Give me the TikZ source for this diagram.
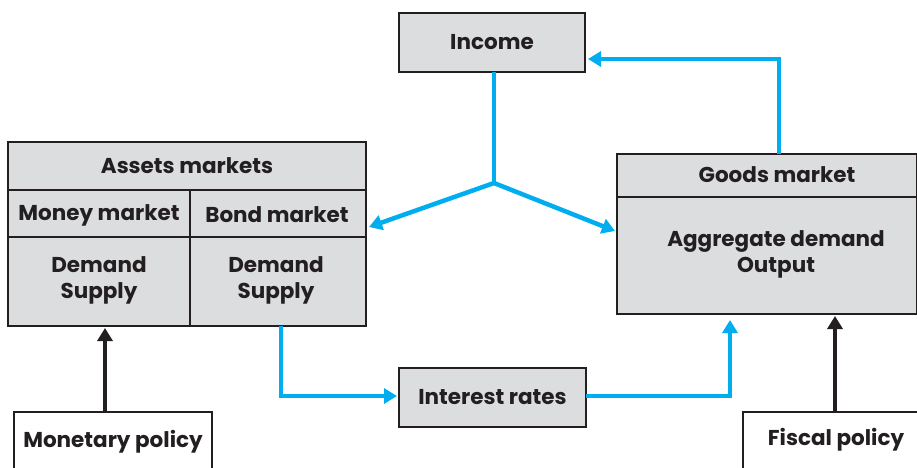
\documentclass[tikz,border=0pt]{standalone}
\usepackage{fontspec}
\setmainfont{Poppins}
\usetikzlibrary{arrows.meta}
\definecolor{boxgray}{HTML}{DCDDDF}
\definecolor{flowblue}{HTML}{00AEEF}
\definecolor{ink}{HTML}{231F20}
\tikzset{
  lbl/.style={font=\bfseries\fontsize{21.5}{26}\selectfont, text=ink, align=center, inner sep=0pt},
  graybox/.style={draw=ink, line width=1.2pt, fill=boxgray, inner sep=0pt},
  whitebox/.style={draw=ink, line width=1.2pt, fill=white, inner sep=0pt},
  flow/.style={draw=flowblue, line width=4.5pt, -{Triangle[length=13pt,width=15pt]}},
  flowplain/.style={draw=flowblue, line width=4.5pt},
  policy/.style={draw=ink, line width=4.5pt, -{Triangle[length=13pt,width=15pt]}},
}
\begin{document}
\begin{tikzpicture}[x=1pt,y=-1pt]
\useasboundingbox (0,0) rectangle (917,467);
% boxes
\node[graybox, minimum width=186pt, minimum height=59pt] (income) at (492,42.5) {};
\node[lbl] at (income) {Income};
\node[graybox, minimum width=358pt, minimum height=184pt] (assets) at (187,234) {};
\node[graybox, minimum width=300pt, minimum height=160pt] (goods) at (767,234) {};
\node[graybox, minimum width=187pt, minimum height=59pt] (rates) at (492.5,397.5) {};
\node[lbl] at (rates) {Interest rates};
% assets inner lines
\draw[ink, line width=2.2pt] (8,190) -- (366,190);
\draw[ink, line width=1.2pt] (8,237) -- (366,237);
\draw[ink, line width=1.2pt] (190,190) -- (190,326);
\node[lbl] (assetsT) at (187,166) {Assets markets};
\node[lbl] (money) at (99,215) {Money market};
\node[lbl] (bond) at (277,215) {Bond market};
\node[lbl] (dsl) at (99,280) {Demand\\Supply};
\node[lbl] (dsr) at (276,280) {Demand\\Supply};
% goods inner
\draw[ink, line width=2.2pt] (617,197) -- (917,197);
\node[lbl] (goodsT) at (777,175) {Goods market};
\node[lbl] (ad) at (776,254) {Aggregate demand\\Output};
% policy boxes
\draw[whitebox] (14,480) -- (14,412) -- (212,412) -- (212,480);
\node[lbl] (monetary) at (113,442) {Monetary policy};
\draw[whitebox] (743,480) -- (743,412) -- (930,412);
\node[lbl] (fiscal) at (836,440) {Fiscal policy};
\coordinate (monTop) at (105,412);
\coordinate (fisTop) at (835,412);
% flows
\coordinate (junc) at (494,183);
\draw[flowplain] (494,72) -- (junc);
\draw[flow] (junc) -- (369,227);
\draw[flow] (junc) -- (615,231);
\draw[flow] (779,154) -- (779,59) -- (588,59);
\draw[flow] (281,326) -- (281,396) -- (397,396);
\draw[flow] (586,396) -- (730,396) -- (730,320);
% policy arrows
\draw[policy] (monTop) -- (105,328);
\draw[policy] (fisTop) -- (835,316);
\end{tikzpicture}
\end{document}
